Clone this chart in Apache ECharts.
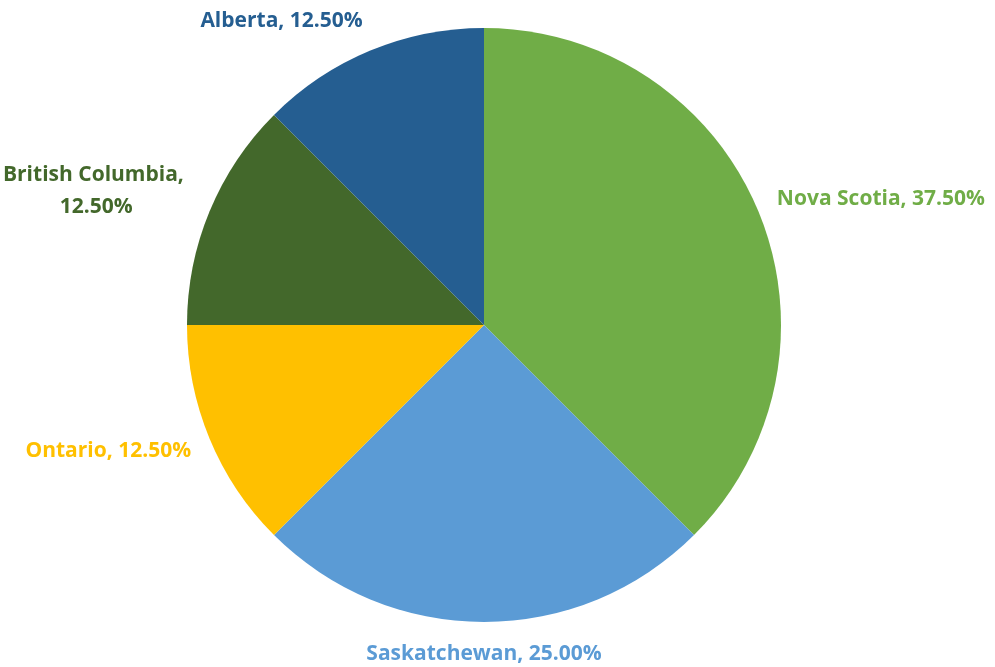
<!DOCTYPE html>
<html>
<head>
<meta charset="utf-8">
<script src="https://cdn.jsdelivr.net/npm/echarts@6/dist/echarts.min.js"></script>
<style>
  html, body { margin: 0; padding: 0; background: #ffffff; }
  #chart { width: 995px; height: 667px; }
</style>
</head>
<body>
<div id="chart"></div>
<script>
// Provinces and their counts (share of total shown as percentage)
const provinces = ['Nova Scotia', 'Saskatchewan', 'Ontario', 'British Columbia', 'Alberta'];
const counts = [3, 2, 1, 1, 1];
const sliceColors = ['#70AD47', '#5B9BD5', '#FFC000', '#43682B', '#255E91'];
const labelColors = ['#70AD47', '#5B9BD5', '#FFC000', '#43682B', '#255E91'];

const CENTER = [484, 325];
const RADIUS = 297;
const LABEL_GAP = 20;

const chart = echarts.init(document.getElementById('chart'));

const total = counts.reduce((a, b) => a + b, 0);
// mid-angle of each slice, measured clockwise from 12 o'clock
const midAngles = [];
let acc = 0;
counts.forEach(v => {
  midAngles.push((acc + v / 2) / total * Math.PI * 2);
  acc += v;
});

const data = provinces.map((name, i) => {
  const item = {
    name: name,
    value: counts[i],
    itemStyle: { color: sliceColors[i] },
    label: { color: labelColors[i] }
  };
  if (name === 'British Columbia') {
    // long label wraps onto two lines
    item.label.width = 190;
    item.label.overflow = 'break';
    item.label.lineHeight = 32;
  }
  return item;
});

chart.setOption({
  animation: false,
  series: [{
    type: 'pie',
    center: CENTER,
    radius: [0, RADIUS],
    startAngle: 90,
    clockwise: true,
    avoidLabelOverlap: false,
    data: data,
    label: {
      show: true,
      position: 'outside',
      fontFamily: '"Open Sans", sans-serif',
      fontWeight: 'bold',
      fontSize: 21,
      lineHeight: 24,
      formatter: p => p.name + ', ' + p.percent.toFixed(2) + '%'
    },
    labelLine: { show: false },
    // place each label just beyond the rim, with its box anchored on the side facing the pie
    labelLayout: function (params) {
      const a = midAngles[params.dataIndex];
      const dx = Math.sin(a), dy = -Math.cos(a);
      const r = RADIUS + LABEL_GAP;
      const ax = CENTER[0] + dx * r;
      const ay = CENTER[1] + dy * r;
      const sx = dx > 0.3 ? 1 : (dx < -0.3 ? -1 : 0);
      const w = params.labelRect.width, h = params.labelRect.height;
      return {
        x: ax + sx * w / 2,
        y: ay + dy * h / 2,
        align: 'center',
        verticalAlign: 'middle'
      };
    }
  }]
});
</script>
</body>
</html>
